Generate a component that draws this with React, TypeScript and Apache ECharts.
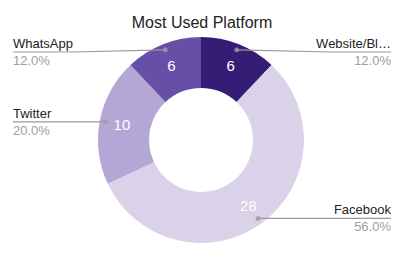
import React, { useEffect, useRef } from "react";
import * as echarts from "echarts";

const categories = ["Website/Blog", "Facebook", "Twitter", "WhatsApp"];
const values = [6, 28, 10, 6];
const colors = ["#351c75", "#d9d2e9", "#b4a7d6", "#674ea7"];

const W = 404;
const H = 258;
const CX = 201;
const CY = 140;
const R_OUT = 103;
const R_IN = 52;
const R_DOT = 97;
const EDGE_L = 13;
const EDGE_R = 391;
const MIN_LINE_Y = 52;
const FONT = '"Liberation Sans", Arial, sans-serif';

export default function App() {
  const ref = useRef<HTMLDivElement>(null);
  useEffect(() => {
    document.body.style.margin = "0";
    const chart = echarts.init(ref.current!, undefined, { renderer: "svg" });
    const total = values.reduce((a, b) => a + b, 0);
    const data = categories.map((c, i) => ({
      name: c,
      value: values[i],
      itemStyle: { color: colors[i] },
    }));
    let cum = 0;
    const mids = values.map((v) => {
      const m = cum + v / 2;
      cum += v;
      return [R_DOT, m];
    });
    const short = (s: string) => (s.length > 10 ? s.slice(0, 10) + "…" : s);
    chart.setOption({
      animation: false,
      textStyle: { fontFamily: FONT },
      title: {
        text: "Most Used Platform",
        left: "center",
        top: 9,
        textStyle: { fontSize: 16, fontWeight: "normal", color: "#222", fontFamily: FONT },
      },
      polar: { center: [CX, CY], radius: [0, R_OUT] },
      angleAxis: { type: "value", min: 0, max: total, startAngle: 90, clockwise: true, show: false },
      radiusAxis: { type: "value", min: 0, max: R_OUT, show: false },
      series: [
        {
          type: "pie",
          center: [CX, CY],
          radius: [R_IN, R_OUT],
          startAngle: 90,
          clockwise: true,
          silent: true,
          data,
          label: {
            show: true,
            position: "inside",
            formatter: "{c}",
            color: "#fff",
            fontSize: 15,
            fontFamily: FONT,
          },
          labelLine: { show: false },
          z: 1,
        },
        {
          type: "pie",
          center: [CX, CY],
          radius: [0, R_DOT],
          startAngle: 90,
          clockwise: true,
          silent: true,
          data: categories.map((c, i) => ({ name: c, value: values[i] })),
          itemStyle: { color: "rgba(0,0,0,0)" },
          label: {
            show: true,
            position: "outside",
            fontFamily: FONT,
            fontSize: 13,
            fontWeight: "normal",
            formatter: (p: any) =>
              `{n|${short(p.name)}}\n{p|${((p.value / total) * 100).toFixed(1)}%}`,
            rich: {
              n: { fontSize: 13, color: "#222", lineHeight: 17, fontFamily: FONT, fontWeight: "normal" },
              p: { fontSize: 13, color: "#9e9e9e", lineHeight: 17, fontFamily: FONT, fontWeight: "normal" },
            },
          },
          labelLine: { show: true, length: 5, length2: 5, lineStyle: { color: "#999", width: 1.2 } },
          labelLayout: (params: any) => {
            const p0 = params.labelLinePoints[0];
            const left = p0[0] < CX;
            const ex = left ? EDGE_L : EDGE_R;
            const ly = Math.max(p0[1], MIN_LINE_Y);
            const mx = left ? EDGE_L + 60 : EDGE_R - 60;
            return {
              x: ex,
              y: ly,
              align: left ? "left" : "right",
              verticalAlign: "middle",
              labelLinePoints: [p0, [mx, ly], [ex, ly]],
            };
          },
          z: 2,
        },
        {
          type: "scatter",
          coordinateSystem: "polar",
          data: mids,
          symbolSize: 5,
          itemStyle: { color: "#9e9e9e" },
          silent: true,
          z: 3,
        },
      ],
    });
    return () => chart.dispose();
  }, []);
  return (
    <div
      ref={ref}
      style={{ position: "absolute", left: 0, top: 0, width: W, height: H, background: "#fff" }}
    />
  );
}
